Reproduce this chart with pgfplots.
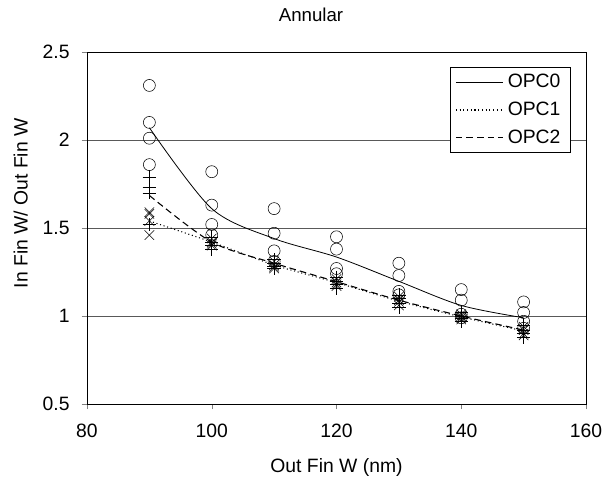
\documentclass[border=0pt]{standalone}
\usepackage{fontspec}
\setmainfont{Liberation Sans}
\usepackage{pgfplots}
\pgfplotsset{compat=1.18}

% samples at each width: circles (OPC0), crosses and pluses
\pgfplotstableread{
x   y
90  2.31
90  2.10
90  2.01
90  1.86
100 1.82
100 1.63
100 1.52
100 1.46
110 1.61
110 1.47
110 1.37
110 1.31
120 1.45
120 1.38
120 1.27
120 1.24
130 1.30
130 1.23
130 1.14
130 1.12
140 1.15
140 1.09
140 1.01
140 0.99
150 1.08
150 1.02
150 0.97
150 0.93
}\circles
\pgfplotstableread{
x   y
90  1.59
90  1.58
90  1.54
90  1.46
100 1.44
100 1.42
100 1.41
100 1.40
110 1.31
110 1.29
110 1.28
110 1.27
120 1.21
120 1.19
120 1.18
120 1.17
130 1.11
130 1.09
130 1.08
130 1.06
140 1.01
140 1.00
140 0.99
140 0.98
150 0.94
150 0.92
150 0.90
150 0.89
}\crosses
\pgfplotstableread{
x   y
90  1.79
90  1.73
90  1.70
90  1.52
100 1.45
100 1.42
100 1.40
100 1.38
110 1.32
110 1.30
110 1.28
110 1.27
120 1.22
120 1.20
120 1.18
120 1.16
130 1.12
130 1.10
130 1.07
130 1.05
140 1.02
140 1.00
140 0.99
140 0.97
150 0.95
150 0.92
150 0.90
150 0.88
}\pluses

\begin{document}
\fontsize{14.5}{17}\selectfont
\begin{tikzpicture}
\useasboundingbox (-65.25pt,-56.25pt) rectangle (388.5pt,303pt);
\node[font=\fontsize{14}{17}\selectfont] at (168pt,291.75pt) {Annular};
\begin{axis}[
  at={(0,0)},anchor=south west,
  scale only axis,width=374.25pt,height=264pt,
  xmin=80,xmax=160,ymin=0.5,ymax=2.5,
  xtick={80,100,...,160},ytick={0.5,1,1.5,2,2.5},
  tick align=outside,tickwidth=4pt,
  xtick pos=left,ytick pos=left,
  ymajorgrids,
  major grid style={gray!70!black,line width=0.6pt},
  axis line style={black,line width=0.6pt},
  /pgf/number format/assume math mode=true,
  ticklabel style={font=\fontsize{14.5}{17}\selectfont},
  xticklabel style={yshift=-6pt},
  yticklabel style={xshift=-4pt},
  label style={font=\fontsize{14.5}{17}\selectfont},
  xlabel={Out Fin W (nm)},
  ylabel={In Fin W/ Out Fin W},
  xlabel style={at={(axis description cs:0.5,0)},anchor=center,yshift=-47.5pt},
  ylabel style={at={(axis description cs:-0.133,0.57)},anchor=center},
  legend style={at={(0.968,0.957)},anchor=north east,draw=black,
    font=\fontsize{14.5}{17}\selectfont,row sep=4.5pt,
    inner xsep=4pt,inner ysep=3pt,
    nodes={inner xsep=3pt}},
  legend cell align=left,
  legend image code/.code={\draw[#1] (0cm,0cm) -- (1.25cm,0cm);},
]
\addplot[only marks,mark=o,mark size=4.5pt,black,forget plot] table {\circles};
\addplot[only marks,mark=x,mark size=5pt,black,forget plot] table {\crosses};
\addplot[only marks,mark=+,mark size=5pt,black,forget plot] table {\pluses};
\addplot[black,smooth,line width=0.6pt] coordinates {
  (90,2.07) (100,1.61) (110,1.44) (120,1.335) (130,1.197) (140,1.06) (150,0.99)};
\addplot[black,smooth,dotted,line width=0.8pt] coordinates {
  (90,1.54) (100,1.42) (110,1.29) (120,1.19) (130,1.085) (140,0.995) (150,0.915)};
\addplot[black,smooth,dash pattern=on 5pt off 3pt,line width=0.8pt] coordinates {
  (90,1.685) (100,1.42) (110,1.30) (120,1.195) (130,1.09) (140,1.0) (150,0.92)};
\legend{OPC0,OPC1,OPC2}
\end{axis}
\end{tikzpicture}
\end{document}
